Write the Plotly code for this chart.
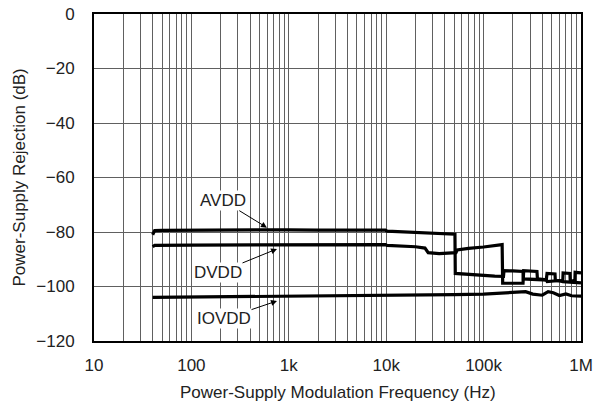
import math
import plotly.graph_objects as go

# ---- data ----
avdd_f = [40, 42, 50, 100, 200, 500, 1000, 2000, 5000, 9800, 10200, 15000, 20000, 30000,
          45000, 50800, 51200, 60000, 80000, 100000, 130000, 160000, 162000, 200000, 254000,
          256000, 300000, 353000, 440000, 448000, 500000, 541000, 545000, 600000, 650000,
          655000, 720000, 770000, 775000, 820000, 865000, 870000, 940000, 1000000]
avdd_db = [-81.0, -79.5, -79.4, -79.3, -79.4, -79.3, -79.2, -79.3, -79.2, -79.3, -79.7,
           -80.0, -80.2, -80.4, -80.7, -80.8, -95.2, -95.4, -95.7, -95.9, -96.2, -96.3,
           -94.2, -94.3, -94.5, -97.2, -97.3, -97.4, -97.6, -95.2, -95.3, -95.4, -97.8,
           -98.0, -98.0, -95.0, -95.1, -95.2, -97.8, -98.0, -98.0, -94.8, -94.9, -95.0]

dvdd_f = [40, 42, 100, 1000, 5000, 9800, 10200, 15000, 20000, 25000, 27000, 35000, 45000,
          52000, 53500, 70000, 100000, 130000, 155000, 157000, 200000, 254000, 258000,
          300000, 353000, 357000, 440000, 450000, 540000, 600000, 650000, 770000, 870000,
          1000000]
dvdd_db = [-85.4, -84.9, -84.8, -84.7, -84.6, -84.6, -84.9, -85.1, -85.4, -85.9, -87.6,
           -87.9, -87.8, -87.6, -86.6, -86.0, -85.5, -84.9, -84.6, -98.8, -98.8, -98.8,
           -94.2, -94.3, -94.5, -97.2, -97.5, -98.2, -98.0, -97.8, -98.2, -98.4, -98.4,
           -98.7]

iovdd_f = [40, 100, 1000, 5000, 10000, 50000, 100000, 200000, 270000, 320000, 400000,
           460000, 520000, 600000, 700000, 800000, 1000000]
iovdd_db = [-104.0, -103.9, -103.7, -103.5, -103.4, -103.0, -102.8, -102.3, -101.9,
            -102.8, -103.2, -101.9, -102.3, -103.3, -102.7, -103.4, -103.5]

decades = [10, 100, 1000, 10000, 100000, 1000000]
decade_labels = ["10", "100", "1k", "10k", "100k", "1M"]
y_ticks = [0, -20, -40, -60, -80, -100, -120]

x_title = "Power-Supply Modulation Frequency (Hz)"
y_title = "Power-Supply Rejection (dB)"

series_names = ["AVDD", "DVDD", "IOVDD"]
# annotation arrow-head points (frequency, dB) and text offsets (px)
label_f = [597, 757, 757]
label_db = [-78.4, -86.2, -105.3]
label_ax = [-44, -59, -53]
label_ay = [-27, 24, 18]

# ---- build grid tick list (1..9 per decade) ----
grid_vals, grid_text = [], []
for d, lab in zip(decades[:-1], decade_labels[:-1]):
    for m in range(1, 10):
        grid_vals.append(d * m)
        grid_text.append(lab if m == 1 else "")
grid_vals.append(decades[-1])
grid_text.append(decade_labels[-1])

FONT = "Liberation Sans, Arial, Helvetica, sans-serif"
TXT = "#222222"
FS = 17
GRID = "#606060"

fig = go.Figure()
for f, db in [(avdd_f, avdd_db), (dvdd_f, dvdd_db), (iovdd_f, iovdd_db)]:
    fig.add_trace(go.Scatter(x=f, y=db, mode="lines",
                             line=dict(color="black", width=3.2), showlegend=False,
                             hoverinfo="skip"))

for name, f, db, ax, ay in zip(series_names, label_f, label_db, label_ax, label_ay):
    fig.add_annotation(x=math.log10(f), y=db, xref="x", yref="y",
                       text=name, showarrow=True, ax=ax, ay=ay,
                       arrowhead=2, arrowsize=1.2, arrowwidth=1, arrowcolor="black",
                       font=dict(family=FONT, size=FS, color=TXT),
                       bgcolor="white", borderpad=0)

# axis titles
fig.add_annotation(text=x_title, xref="paper", yref="paper", x=0.5, y=-0.156,
                   xanchor="center", yanchor="middle", showarrow=False,
                   font=dict(family=FONT, size=FS, color=TXT))
fig.add_annotation(text=y_title, xref="paper", yref="paper", x=-0.152, y=0.5,
                   xanchor="center", yanchor="middle", showarrow=False, textangle=-90,
                   font=dict(family=FONT, size=FS, color=TXT))

fig.update_xaxes(type="log", range=[1, 6], tickmode="array", tickvals=grid_vals,
                 ticktext=grid_text, showgrid=True, gridcolor=GRID, gridwidth=1,
                 showline=True, linecolor="black", linewidth=2, mirror=True,
                 ticks="", ticklabelstandoff=8, automargin=False,
                 ticklabeloverflow="allow",
                 tickfont=dict(family=FONT, size=FS, color=TXT), zeroline=False)
fig.update_yaxes(range=[-120, 0], tickmode="array", tickvals=y_ticks,
                 showgrid=True, gridcolor=GRID, gridwidth=1,
                 showline=True, linecolor="black", linewidth=2, mirror=True,
                 ticks="", ticklabelstandoff=14, automargin=False,
                 tickfont=dict(family=FONT, size=FS, color=TXT), zeroline=False)

fig.update_layout(width=595, height=407, margin=dict(l=94, r=14, t=14, b=66),
                  paper_bgcolor="white", plot_bgcolor="white")

fig.write_html("out.html", config={"displayModeBar": False},
               post_script="document.body.style.margin='0';"
                           "document.body.style.overflow='hidden';")
